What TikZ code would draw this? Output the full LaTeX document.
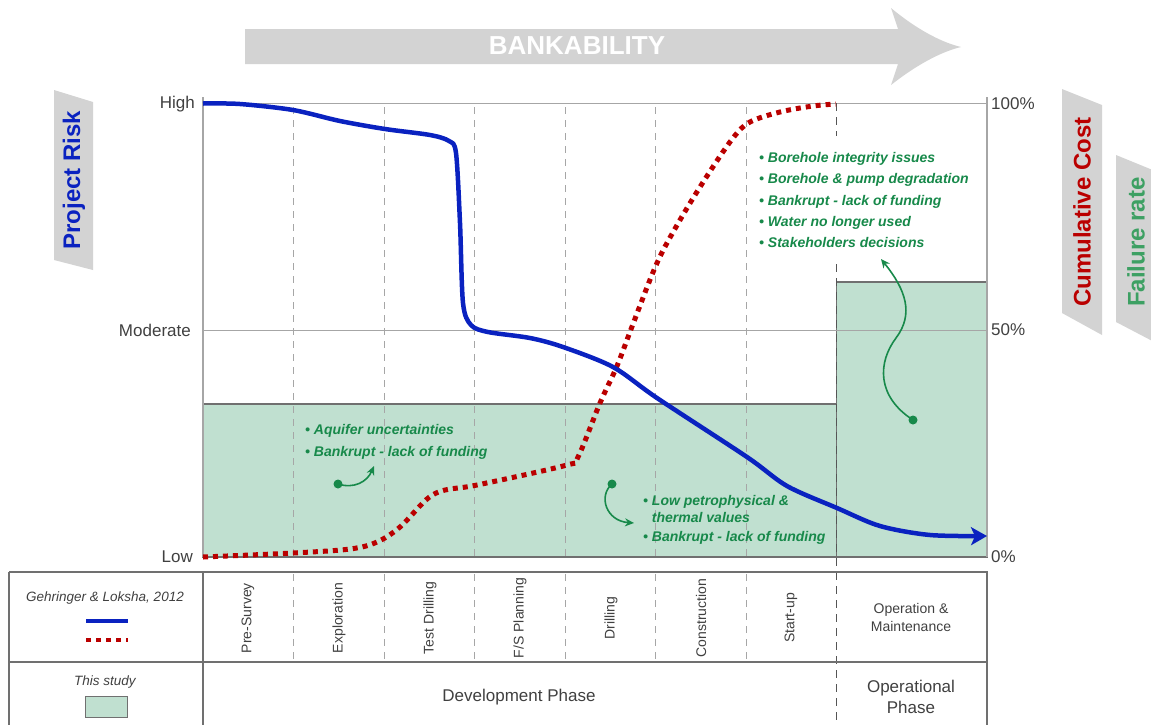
\documentclass[tikz,border=0pt]{standalone}
\usepackage{fontspec}
\setmainfont{Liberation Sans}
\usetikzlibrary{arrows.meta}
\definecolor{riskblue}{HTML}{0A22C0}
\definecolor{costred}{HTML}{BA0000}
\definecolor{studyfill}{HTML}{C0E0D0}
\definecolor{notegreen}{HTML}{17894A}
\definecolor{failgreen}{HTML}{3DA063}
\definecolor{labelgray}{HTML}{D3D3D3}
\definecolor{axisgray}{HTML}{A6A6A6}
\definecolor{textgray}{HTML}{404040}
\definecolor{framegray}{HTML}{707070}
\definecolor{darkdash}{HTML}{555555}
\tikzset{
  axisline/.style={draw=axisgray, line width=1.3pt},
  gridline/.style={draw=axisgray, line width=1pt},
  phasedash/.style={draw=axisgray, line width=1pt, dash pattern=on 7pt off 6pt},
  opdash/.style={draw=darkdash, line width=1.2pt, dash pattern=on 8pt off 6pt},
  studybox/.style={fill=studyfill, draw=framegray, line width=1.2pt},
  riskline/.style={draw=riskblue, line width=4.5pt},
  costline/.style={draw=costred, line width=5pt, dash pattern=on 5pt off 5pt},
  axislabel/.style={text=textgray, font=\fontsize{17}{20}\selectfont, inner sep=0pt},
  sidebox/.style={fill=labelgray, draw=none},
  sidetext/.style={rotate=90, font=\fontsize{24}{28}\selectfont\bfseries, inner sep=0pt},
  note/.style={text=notegreen, font=\fontsize{14}{21.3}\selectfont\bfseries\itshape, align=left, inner sep=0pt},
  notearrow/.style={draw=notegreen, line width=1.6pt, -{Stealth[length=9pt,width=8pt]}},
  notedot/.style={circle, fill=notegreen, minimum size=9pt, inner sep=0pt},
  phasename/.style={rotate=90, text=textgray, font=\fontsize{14}{17}\selectfont, inner sep=0pt},
  tabletext/.style={text=textgray, align=center, inner sep=0pt},
}
\begin{document}
\begin{tikzpicture}[x=1pt,y=-1pt]
\useasboundingbox (0,0) rectangle (1151,724);

% BANKABILITY arrow
\fill[labelgray] (245,29) -- (898,29) -- (891,8) .. controls (915,28) and (940,42) .. (961,47)
  .. controls (940,52) and (915,66) .. (891,85) -- (898,64) -- (245,64) -- cycle;
\node[text=white, font=\fontsize{26}{30}\selectfont\bfseries, inner sep=0pt] (bank) at (577,46) {BANKABILITY};

% side labels
\fill[sidebox] (54,90) -- (93,102) -- (93,270) -- (54,260) -- cycle;
\node[sidetext, text=riskblue] (risk) at (74,180) {Project Risk};
\fill[sidebox] (1062,89) -- (1102,105) -- (1102,335) -- (1062,313) -- cycle;
\node[sidetext, text=costred] (cost) at (1082,212) {Cumulative Cost};
\fill[sidebox] (1116,155) -- (1160,173) -- (1160,345) -- (1116,322) -- cycle;
\node[sidetext, text=failgreen] (fail) at (1136,242) {Failure rate};

% study boxes
\path[studybox] (203,404) rectangle (836.5,557);
\path[studybox] (836.5,282) rectangle (987,557);

% grid lines
\path[gridline] (203,103) -- (987,103);
\path[gridline] (203,330) -- (987,330);
\foreach \xx in {293.5,384,474.5,565,655.5,746} {
  \path[phasedash] (\xx,107) -- (\xx,557);
  \path[phasedash] (\xx,574) -- (\xx,662);
}
\path[opdash] (836.5,103) -- (836.5,136);
\path[opdash] (836.5,264) -- (836.5,724);

% axes
\path[axisline] (203,97) -- (203,557);
\path[axisline] (987,97) -- (987,557);

% axis labels
\node[axislabel, anchor=east] (high) at (195,104) {High};
\node[axislabel, anchor=east] (moderate) at (191,330) {Moderate};
\node[axislabel, anchor=east] (low) at (193,557) {Low};
\node[axislabel, anchor=west] (p100) at (991,104) {100\%};
\node[axislabel, anchor=west] (p50) at (991,330) {50\%};
\node[axislabel, anchor=west] (p0) at (991,557) {0\%};

% cumulative cost curve
\path[costline] plot[smooth, tension=0.55] coordinates {
  (203,557) (293,553) (350,549) (377,542) (400,527) (427,499) (445,490)
  (477,485) (567,465) (578,457) (600,403) (617,366) (633,324) (657,263)
  (680,220) (707,176) (733,138) (750,122) (780,112) (813,106) (836,104)};

% project risk curve
\path[riskline, -{Stealth[length=16pt,width=18pt,inset=4pt]}] plot[smooth, tension=0.5] coordinates {
  (203,103.5) (240,104) (293,110) (340,121) (385,129) (430,135) (449,141)
  (456,153) (460,223) (463,303) (471,325) (488,332) (530,338) (563,347)
  (613,367) (657,398) (747,457) (787,486) (837,508) (880,526) (930,535) (987,536)};

% notes
\node[note, anchor=west] (opnotes) at (759,200) {• Borehole integrity issues\\• Borehole \& pump degradation\\• Bankrupt - lack of funding\\• Water no longer used\\• Stakeholders decisions};
\node[note, anchor=west] (devnotes) at (305,442) {• Aquifer uncertainties\\• Bankrupt - lack of funding};
\node[note, anchor=west, font=\fontsize{14}{17}\selectfont\bfseries\itshape] (drillnotes) at (643,509) {• Low petrophysical \&\\\phantom{• }thermal values};
\node[note, anchor=west] (drillnotes2) at (643,538) {• Bankrupt - lack of funding};

% note arrows
\node[notedot] (dot1) at (338,484) {};
\node[notedot] (dot2) at (612,484) {};
\node[notedot] (dot3) at (913,420) {};
\coordinate (tip1) at (374,466);
\coordinate (tip2) at (634,523);
\coordinate (tip3) at (881,259);
\path[notearrow] (dot1.center) .. controls (354,489) and (367,482) .. (tip1);
\path[notearrow] (dot2.center) .. controls (598,496) and (606,521) .. (tip2);
\path[notearrow] (dot3.center) .. controls (876,396) and (878,362) .. (896,338) .. controls (914,314) and (906,290) .. (tip3);

% table
\draw[framegray, line width=1.3pt] (9,572) -- (987,572) -- (987,730) (9,730) -- (9,572);
\draw[framegray, line width=1.3pt] (9,662) -- (987,662);
\draw[framegray, line width=1.3pt] (203,572) -- (203,730);

\node[tabletext, font=\fontsize{13.5}{16}\selectfont\itshape] (gehr) at (105,598) {Gehringer \& Loksha, 2012};
\draw[riskline, line width=4pt] (86,621) -- (128,621);
\draw[costline, line width=4.5pt] (86,640) -- (128,640);
\node[tabletext, font=\fontsize{13.5}{16}\selectfont\itshape] (thisstudy) at (105,682) {This study};
\path[studybox, line width=1pt] (85,696) rectangle (127,717);

\node[phasename] (ph1) at (248,618) {Pre-Survey};
\node[phasename] (ph2) at (339,618) {Exploration};
\node[phasename] (ph3) at (430,618) {Test Drilling};
\node[phasename] (ph4) at (520,618) {F/S Planning};
\node[phasename] (ph5) at (611,618) {Drilling};
\node[phasename] (ph6) at (701,618) {Construction};
\node[phasename] (ph7) at (791,618) {Start-up};
\node[tabletext, font=\fontsize{14}{18}\selectfont] (opm) at (911,617) {Operation \&\\Maintenance};
\node[tabletext, font=\fontsize{17}{21}\selectfont] (devphase) at (519,697) {Development Phase};
\node[tabletext, font=\fontsize{17}{21}\selectfont] (opphase) at (911,697) {Operational\\Phase};
\end{tikzpicture}
\end{document}
